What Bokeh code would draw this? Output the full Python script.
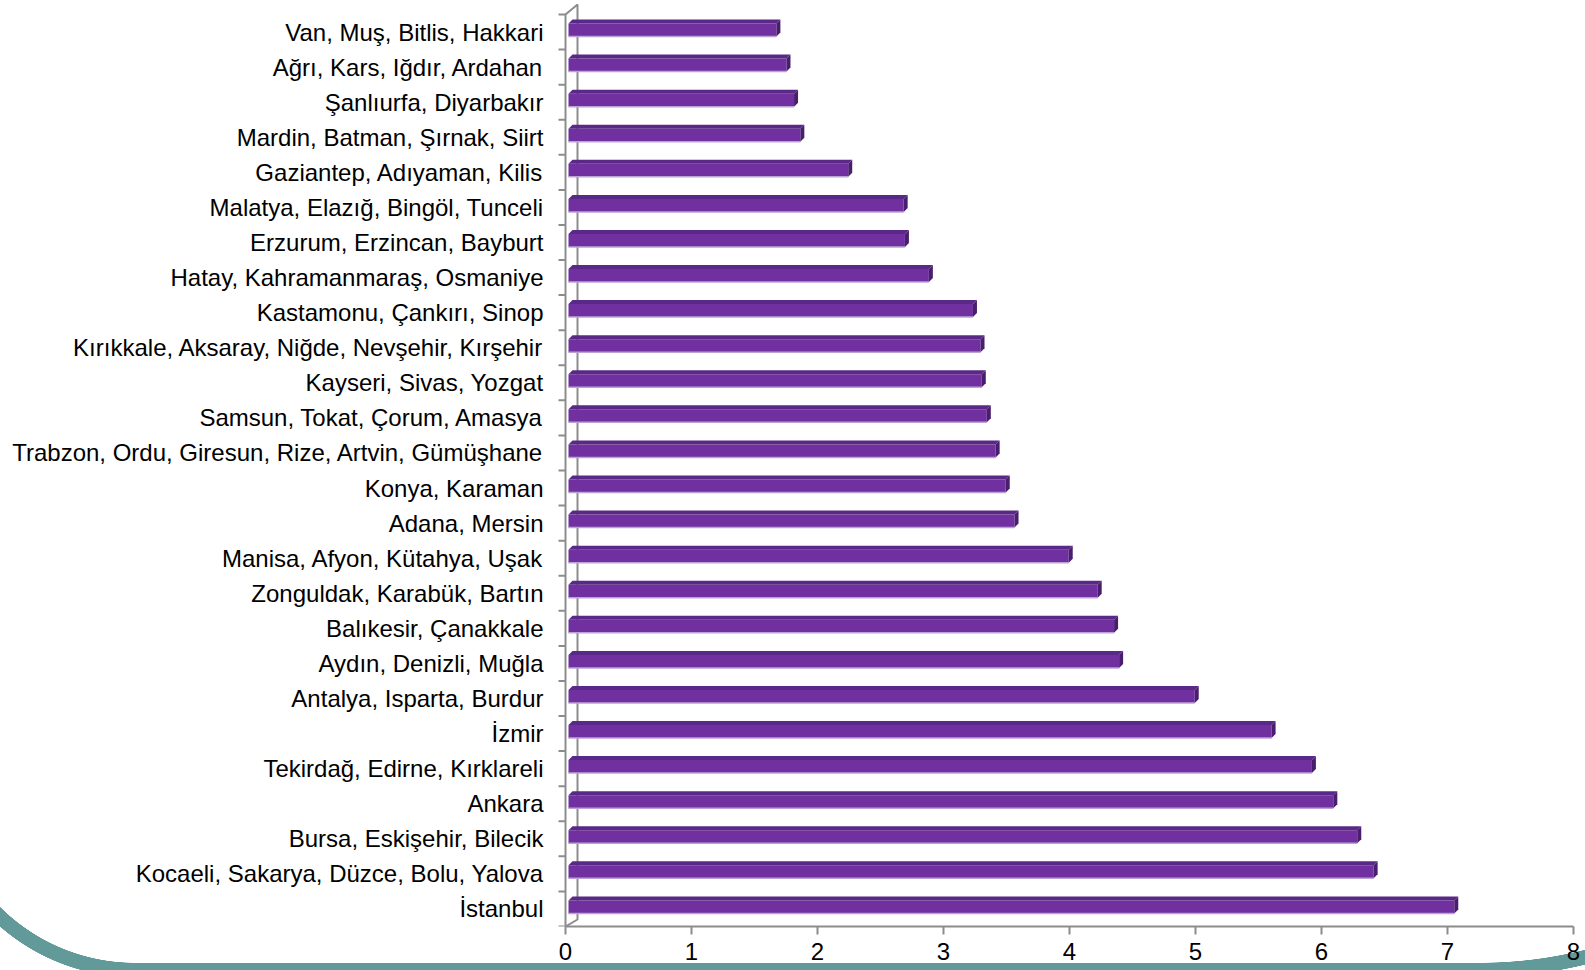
import numpy as np
from bokeh.plotting import figure
from bokeh.models import Range1d, FixedTicker
from bokeh.embed import file_html
from bokeh.resources import INLINE

# ---------------- data (top to bottom as in the picture) ----------------
CATEGORIES = [
    "Van, Muş, Bitlis, Hakkari",
    "Ağrı, Kars, Iğdır, Ardahan",
    "Şanlıurfa, Diyarbakır",
    "Mardin, Batman, Şırnak, Siirt",
    "Gaziantep, Adıyaman, Kilis",
    "Malatya, Elazığ, Bingöl, Tunceli",
    "Erzurum, Erzincan, Bayburt",
    "Hatay, Kahramanmaraş, Osmaniye",
    "Kastamonu, Çankırı, Sinop",
    "Kırıkkale, Aksaray, Niğde, Nevşehir, Kırşehir",
    "Kayseri, Sivas, Yozgat",
    "Samsun, Tokat, Çorum, Amasya",
    "Trabzon, Ordu, Giresun, Rize, Artvin, Gümüşhane",
    "Konya, Karaman",
    "Adana, Mersin",
    "Manisa, Afyon, Kütahya, Uşak",
    "Zonguldak, Karabük, Bartın",
    "Balıkesir, Çanakkale",
    "Aydın, Denizli, Muğla",
    "Antalya, Isparta, Burdur",
    "İzmir",
    "Tekirdağ, Edirne, Kırklareli",
    "Ankara",
    "Bursa, Eskişehir, Bilecik",
    "Kocaeli, Sakarya, Düzce, Bolu, Yalova",
    "İstanbul",
]
VALUES = [1.65, 1.73, 1.79, 1.84, 2.22, 2.66, 2.67, 2.86, 3.21, 3.27, 3.28, 3.32,
          3.39, 3.47, 3.54, 3.97, 4.20, 4.33, 4.37, 4.97, 5.58, 5.90, 6.07, 6.26,
          6.39, 7.03]
X_TICKS = [0, 1, 2, 3, 4, 5, 6, 7, 8]

# ---------------- geometry / style ----------------
W, H = 1585, 970
LEFT_BORDER = 548
BOTTOM_BORDER = 44
ZERO_PX = 565                       # canvas x of value 0
PX_X = 126.0                        # pixels per x unit
FLOOR_PX = H - BOTTOM_BORDER        # canvas y of the floor (frame bottom)
PX_Y = (FLOOR_PX - 14) / 26.0       # pixels per category band
x0 = -(ZERO_PX - LEFT_BORDER) / PX_X
x1 = (W - ZERO_PX) / PX_X
y1 = FLOOR_PX / PX_Y

FRONT = "#7030A0"
TOPC = "#5A2886"
SIDE = "#4A1E6E"
EDGE = "#BBA3D6"
GRAY = "#8C8C8C"
TEAL = "#629A9A"
FONT = "Liberation Sans"

n = len(CATEGORIES)
ks = [n - 1 - i for i in range(n)]  # band index from bottom

p = figure(width=W, height=H, x_range=Range1d(x0, x1), y_range=Range1d(0, y1),
           output_backend="svg", toolbar_location=None,
           min_border_left=LEFT_BORDER, min_border_right=0,
           min_border_top=0, min_border_bottom=BOTTOM_BORDER)
p.outline_line_color = None
p.xgrid.visible = False
p.ygrid.visible = False
p.background_fill_color = "white"
p.border_fill_alpha = 0.0

# ---------------- slide decoration (teal swoosh) as page background ----------------
T0 = "rgba(0,0,0,0)"
ring_left = (f"radial-gradient(circle at 135px 0px, {T0} 190.5px, {TEAL} 191px, "
             f"{TEAL} 205px, {T0} 205.5px) 0px 772px / 135px 210px no-repeat")
band = f"linear-gradient({TEAL}, {TEAL}) 135px 963px / 1345px 14px no-repeat"
ring_right = (f"radial-gradient(circle at 0px 0.5px, {T0} 430px, {TEAL} 430.5px, "
              f"{TEAL} 444.5px, {T0} 445px) 1480px 532px / 105px 460px no-repeat")
p.styles = {"background": f"{ring_left}, {band}, {ring_right}, #ffffff"}

# ---------------- 3-D wall / left axis ----------------
wdx = 12 / PX_X
wdy_t = 10 / PX_Y
wdy_b = 7 / PX_Y
p.multi_line(xs=[[0, 0, wdx, wdx, 0]], ys=[[0, n, n + wdy_t, wdy_b, 0]],
             line_color=GRAY, line_width=2)
tick_len = 7 / PX_X
p.segment(x0=[-tick_len] * (n + 1), y0=list(range(n + 1)),
          x1=[0] * (n + 1), y1=list(range(n + 1)), line_color=GRAY, line_width=2)

# ---------------- 3-D bars ----------------
b0 = 3 / PX_X
dx = 4 / PX_X
dh = 4 / PX_Y
yb = [k + 1 - 22 / PX_Y for k in ks]
yt = [k + 1 - 9 / PX_Y for k in ks]
xe = [b0 + v for v in VALUES]

p.quad(left=[b0] * n, right=xe, bottom=yb, top=yt,
       fill_color=FRONT, line_color=None)
p.patches(xs=[[b0, e, e + dx, b0 + dx] for e in xe],
          ys=[[a, a, a + dh, a + dh] for a in yt],
          fill_color=TOPC, line_color=None)
p.patches(xs=[[e, e + dx, e + dx, e] for e in xe],
          ys=[[b, b + dh, a + dh, a] for a, b in zip(yt, yb)],
          fill_color=SIDE, line_color=None)
p.segment(x0=[b0] * n, y0=yb, x1=xe, y1=yb, line_color=EDGE, line_width=1.5)

# ---------------- axes ----------------
xa = p.xaxis[0]
xa.ticker = FixedTicker(ticks=X_TICKS)
xa.bounds = (0, 8)
xa.axis_line_color = GRAY
xa.axis_line_width = 2
xa.major_tick_line_color = GRAY
xa.major_tick_line_width = 2
xa.major_tick_out = 8
xa.major_tick_in = 0
xa.minor_tick_line_color = None
xa.major_label_text_font = FONT
xa.major_label_text_font_size = "24px"
xa.major_label_text_color = "black"
xa.major_label_standoff = 8

ya = p.yaxis[0]
ya.ticker = FixedTicker(ticks=[k + 0.5 for k in ks])
ya.major_label_overrides = {k + 0.5: c for k, c in zip(ks, CATEGORIES)}
ya.axis_line_color = None
ya.major_tick_line_color = None
ya.major_tick_out = 0
ya.major_tick_in = 0
ya.minor_tick_line_color = None
ya.major_label_text_font = FONT
ya.major_label_text_font_size = "24px"
ya.major_label_text_color = "black"
ya.major_label_standoff = 5

open("out.html", "w").write(file_html(p, INLINE))
